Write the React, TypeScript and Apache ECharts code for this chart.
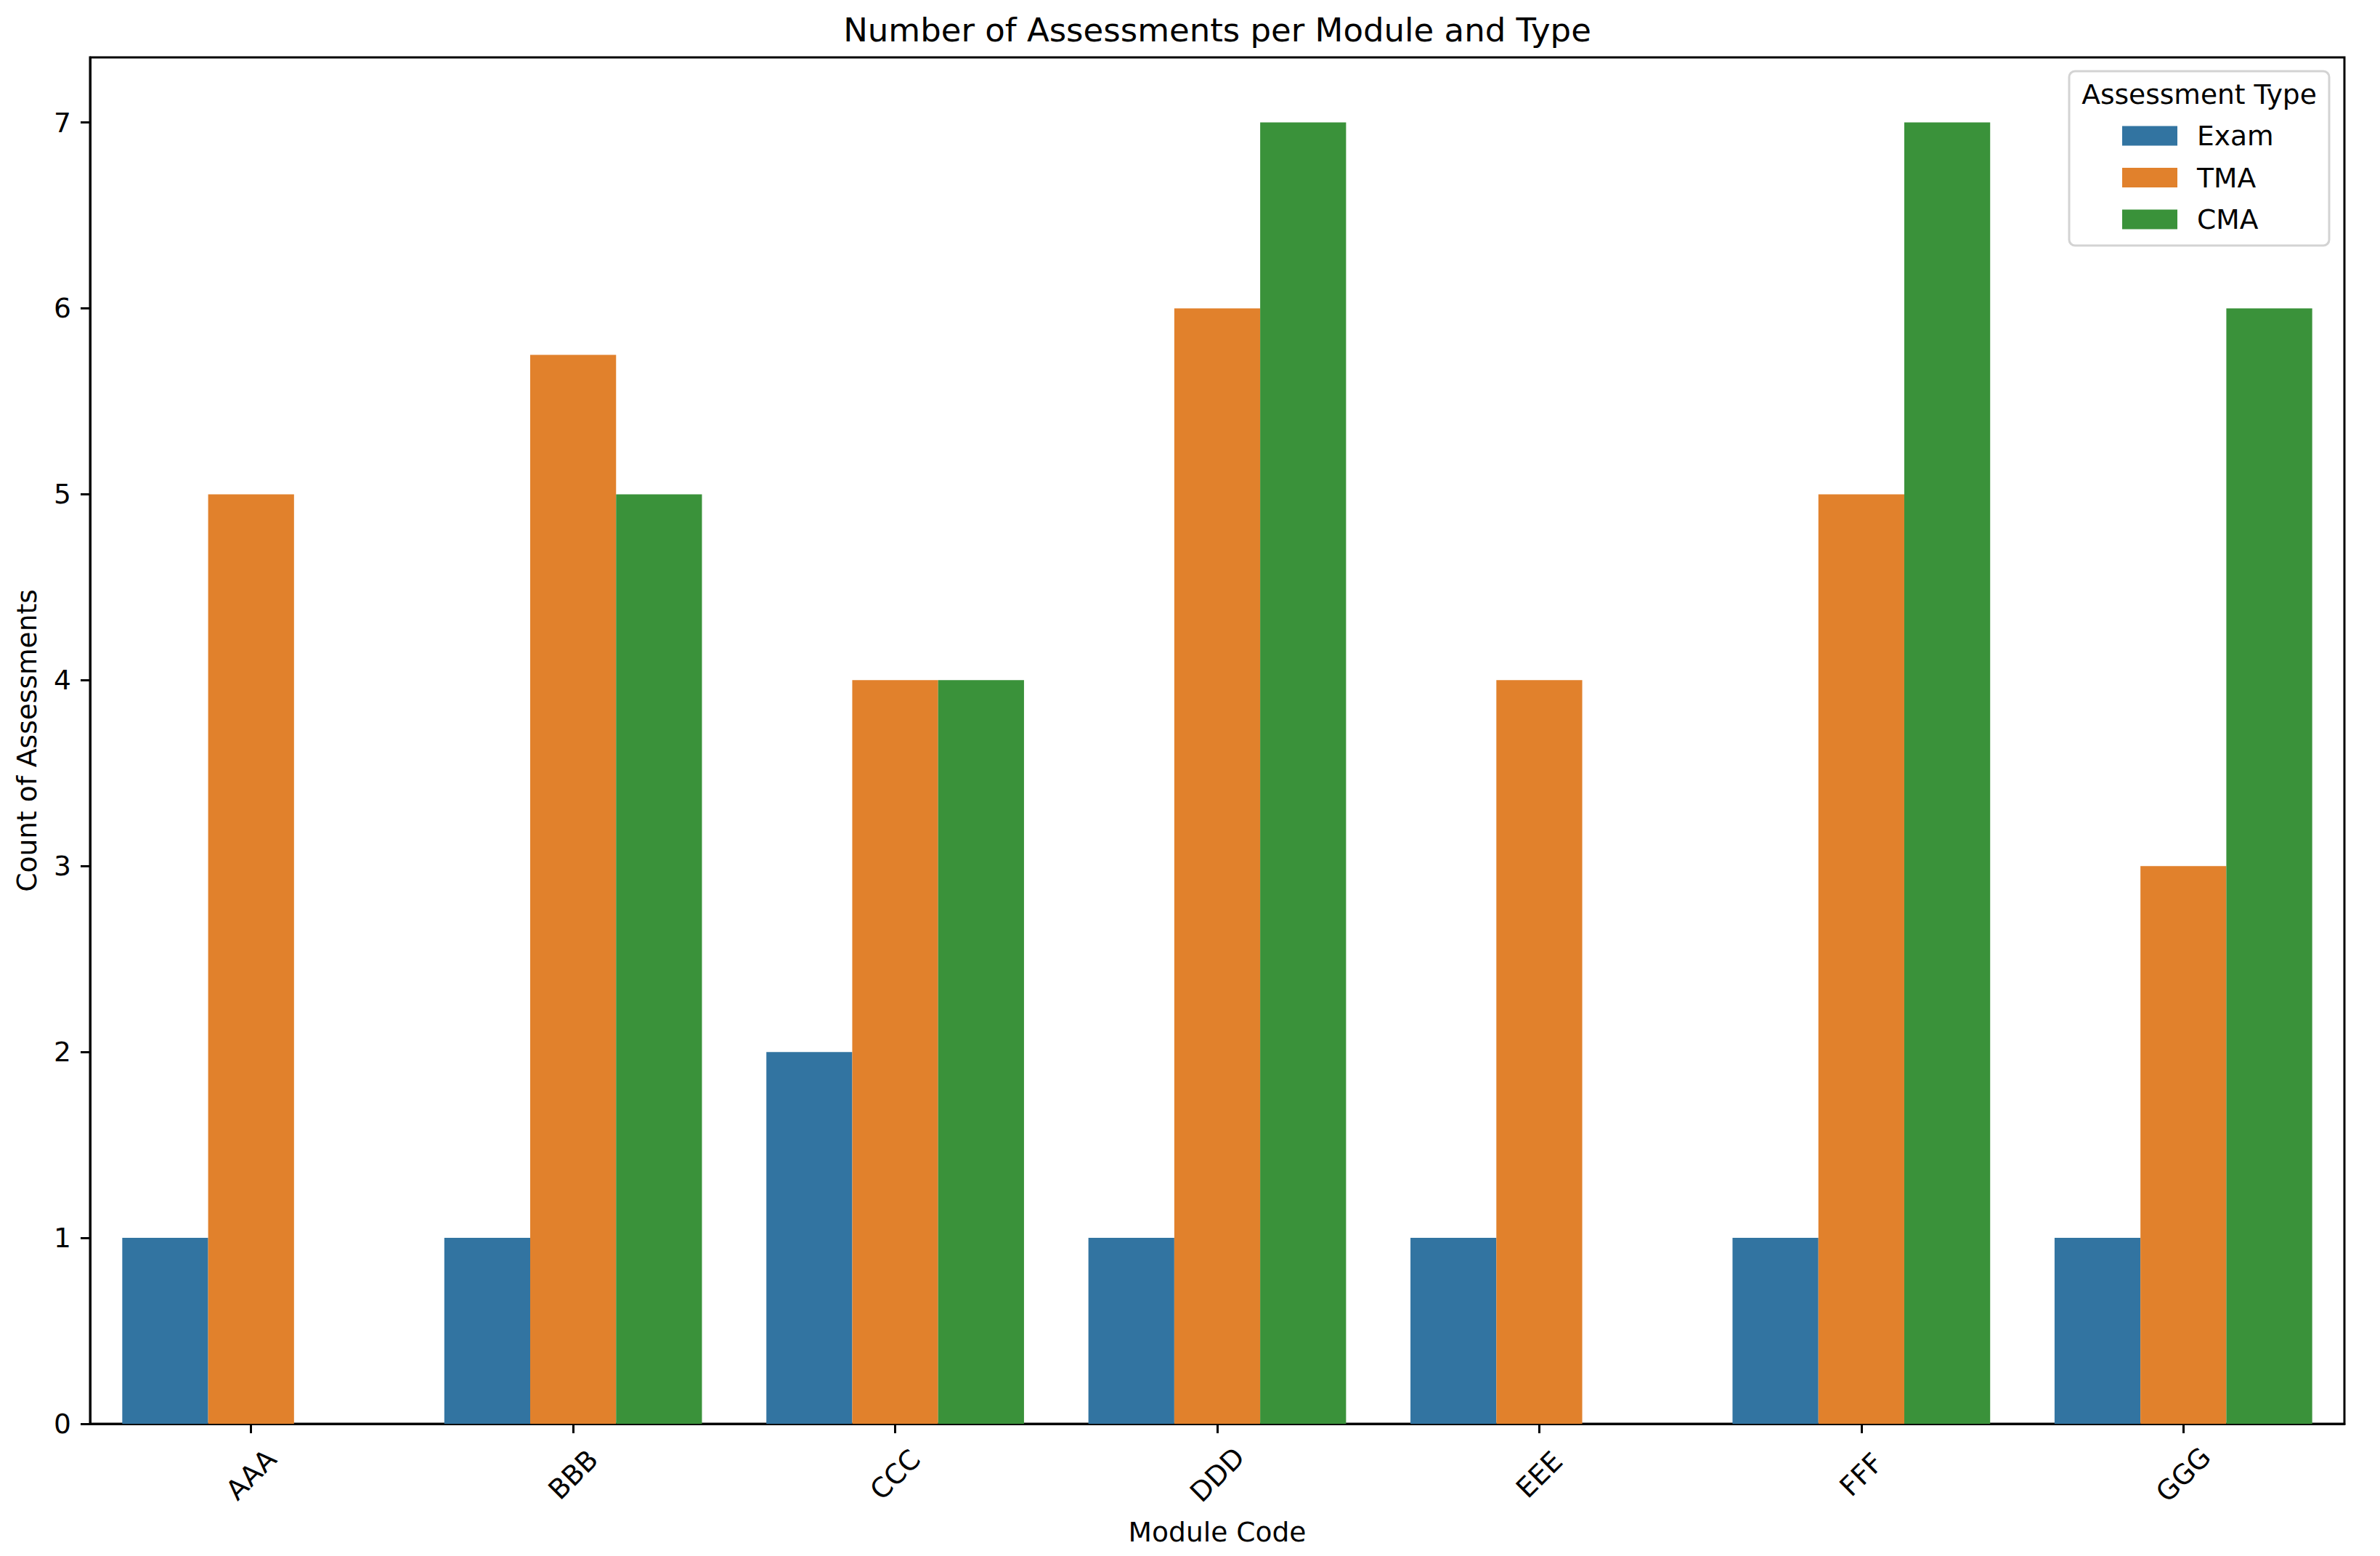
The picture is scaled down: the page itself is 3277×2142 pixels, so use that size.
import { useEffect, useRef } from "react";
import * as echarts from "echarts";

const categories = ["AAA", "BBB", "CCC", "DDD", "EEE", "FFF", "GGG"];
const seriesNames = ["Exam", "TMA", "CMA"];
const examCounts = [1, 1, 2, 1, 1, 1, 1];
const tmaCounts = [5, 5.75, 4, 6, 4, 5, 3];
const cmaCounts = [null, 5, 4, 7, null, 7, 6];
const seriesColors = ["#3274a1", "#e1812c", "#3a923a"];
const yTicks = [0, 1, 2, 3, 4, 5, 6, 7];
const yMax = 7.35;

const chartTitle = "Number of Assessments per Module and Type";
const xAxisTitle = "Module Code";
const yAxisTitle = "Count of Assessments";
const legendTitle = "Assessment Type";

const FONT = "DejaVu Sans";
const FS = 37.6;

export default function App() {
  const ref = useRef<HTMLDivElement>(null);
  useEffect(() => {
    if (!ref.current) return;
    const chart = echarts.init(ref.current, null, { renderer: "svg" });
    const values = [examCounts, tmaCounts, cmaCounts];
    const gridLeft = 124;
    const gridTop = 79;
    const gridW = 3104;
    const gridH = 1881;
    chart.setOption({
      animation: false,
      backgroundColor: "#ffffff",
      grid: {
        left: gridLeft,
        top: gridTop,
        width: gridW,
        height: gridH,
        show: true,
        borderColor: "#000000",
        borderWidth: 3,
        backgroundColor: "transparent",
      },
      legend: {
        orient: "vertical",
        left: 2922,
        top: 168,
        padding: 0,
        itemWidth: 76,
        itemHeight: 27,
        itemGap: 19.5,
        icon: "rect",
        data: seriesNames,
        textStyle: {
          fontFamily: FONT,
          fontSize: FS,
          color: "#000000",
          lineHeight: 38,
          padding: [0, 0, 0, 22],
        },
        z: 10,
      },
      xAxis: {
        type: "category",
        data: categories,
        boundaryGap: true,
        axisLine: { show: true, lineStyle: { color: "#000000", width: 3 } },
        axisTick: {
          show: true,
          alignWithLabel: true,
          length: 13,
          lineStyle: { color: "#000000", width: 3 },
        },
        axisLabel: {
          interval: 0,
          rotate: 45,
          align: "center",
          verticalAlign: "middle",
          margin: 70,
          fontFamily: FONT,
          fontSize: FS,
          color: "#000000",
        },
        splitLine: { show: false },
      },
      yAxis: {
        type: "value",
        min: 0,
        max: yMax,
        axisLine: { show: true, lineStyle: { color: "#000000", width: 3 } },
        axisTick: {
          show: true,
          length: 13,
          customValues: yTicks,
          lineStyle: { color: "#000000", width: 3 },
        },
        axisLabel: {
          customValues: yTicks,
          margin: 26,
          fontFamily: FONT,
          fontSize: FS,
          color: "#000000",
        },
        splitLine: { show: false },
      },
      series: seriesNames.map((name, i) => ({
        name,
        type: "bar",
        data: values[i],
        barGap: "0%",
        barCategoryGap: "20%",
        itemStyle: { color: seriesColors[i] },
      })),
      graphic: [
        {
          type: "text",
          x: gridLeft + gridW / 2,
          y: 41,
          style: {
            text: chartTitle,
            fontFamily: FONT,
            fontSize: 45,
            fill: "#000000",
            align: "center",
            verticalAlign: "middle",
          },
        },
        {
          type: "text",
          x: gridLeft + gridW / 2,
          y: 2109,
          style: {
            text: xAxisTitle,
            fontFamily: FONT,
            fontSize: FS,
            fill: "#000000",
            align: "center",
            verticalAlign: "middle",
          },
        },
        {
          type: "text",
          x: 37,
          y: gridTop + gridH / 2,
          rotation: Math.PI / 2,
          style: {
            text: yAxisTitle,
            fontFamily: FONT,
            fontSize: FS,
            fill: "#000000",
            align: "center",
            verticalAlign: "middle",
          },
        },
        {
          type: "rect",
          z: 5,
          shape: { x: 2849, y: 98, width: 358, height: 240, r: 8 },
          style: {
            fill: "rgba(255,255,255,0.8)",
            stroke: "#d3d3d3",
            lineWidth: 3,
          },
        },
        {
          type: "text",
          z: 6,
          x: 3028,
          y: 130,
          style: {
            text: legendTitle,
            fontFamily: FONT,
            fontSize: FS,
            fill: "#000000",
            align: "center",
            verticalAlign: "middle",
          },
        },
      ],
    });
    return () => chart.dispose();
  }, []);
  return (
    <div
      ref={ref}
      style={{ position: "absolute", left: 0, top: 0, width: 3277, height: 2142 }}
    />
  );
}
